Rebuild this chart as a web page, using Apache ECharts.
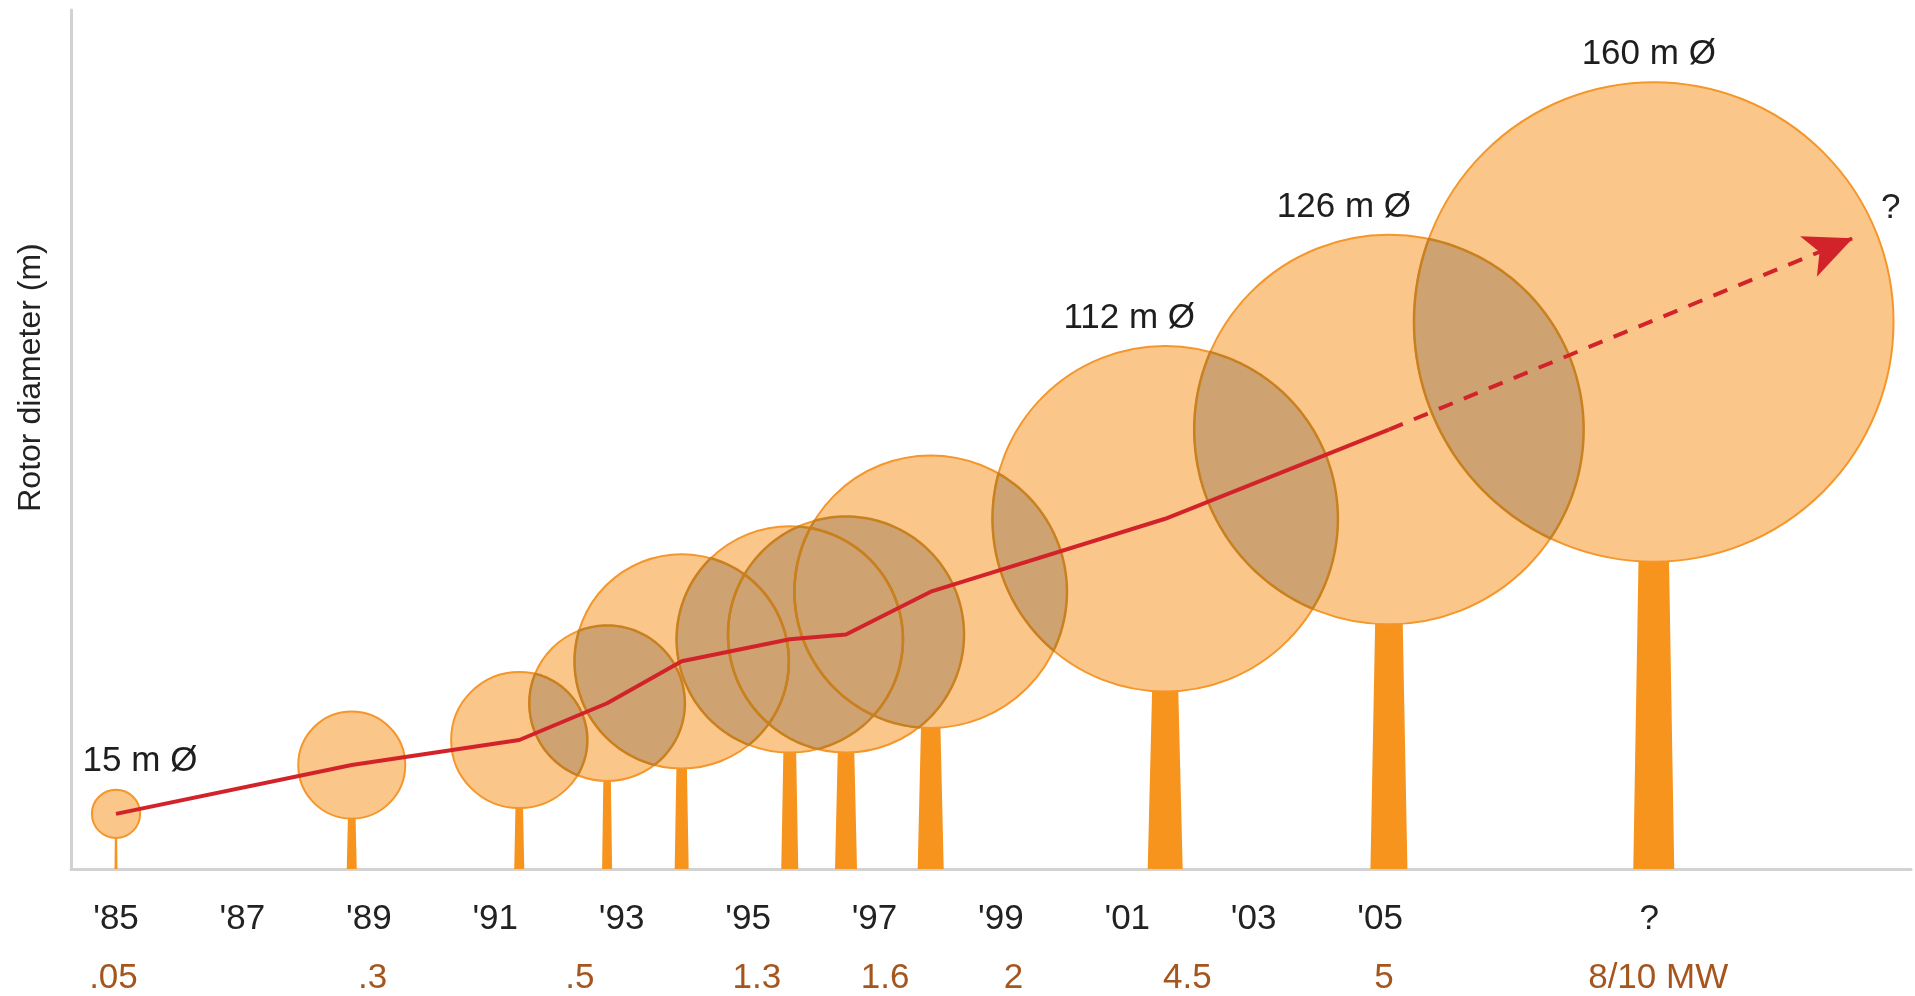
<!DOCTYPE html>
<html>
<head>
<meta charset="utf-8">
<script src="https://cdn.jsdelivr.net/npm/echarts@6/dist/echarts.min.js"></script>
<style>
html,body{margin:0;padding:0;background:#ffffff;}
#c{width:1915px;height:996px;}
</style>
</head>
<body>
<div id="c"></div>
<script>
// ---- data ----
const years          = [1985.0, 1988.73, 1991.38, 1992.77, 1993.95, 1995.66, 1996.55, 1997.89, 2001.6, 2005.14, 2009.33];
const hubHeight      = [18.3, 34.5, 42.8, 55.0, 68.9, 76.2, 77.8, 92.0, 116.2, 145.8, 181.5];
const rotorDiameter  = [16, 35.5, 45.2, 51.6, 71.1, 75.1, 78.3, 90.4, 114.6, 129.2, 159.1];
const rotorLabels    = ['15 m Ø', '', '', '', '', '', '', '', '112 m Ø', '126 m Ø', '160 m Ø'];
const trendEnd       = [2012.48, 209.3];
const trendLabel     = '?';
const yearTicks      = [1985, 1987, 1989, 1991, 1993, 1995, 1997, 1999, 2001, 2003, 2005, 2009.26];
const yearTickLabels = ["'85", "'87", "'89", "'91", "'93", "'95", "'97", "'99", "'01", "'03", "'05", "?"];
const powerTicks     = [1984.96, 1989.06, 1992.34, 1995.14, 1997.17, 1999.2, 2001.95, 2005.06, 2009.4];
const powerLabels    = ['.05', '.3', '.5', '1.3', '1.6', '2', '4.5', '5', '8/10 MW'];
const yAxisName      = 'Rotor diameter (m)';

// ---- styles ----
const FONT = '"Liberation Sans", Arial, sans-serif';
const towerWidthPx = [3, 10, 10, 10, 14, 17, 22, 26, 35, 37, 41];
const labelDx = [24, 0, 0, 0, 0, 0, 0, 0, -36, -45, -5];

const chart = echarts.init(document.getElementById('c'));

const rotorData = years.map((y, i) => [y, hubHeight[i], rotorDiameter[i]]);
const pairData = [];
for (let i = 0; i < years.length; i++) {
  for (let j = i + 1; j < years.length; j++) {
    pairData.push([years[i], hubHeight[i], rotorDiameter[i], years[j], hubHeight[j], rotorDiameter[j]]);
  }
}
const lineData = years.slice(0, 10).map((y, i) => [y, hubHeight[i]]);

function lensPoints(api) {
  const c1 = api.coord([api.value(0), api.value(1)]);
  const r1 = api.size([0, api.value(2)])[1] / 2;
  const c2 = api.coord([api.value(3), api.value(4)]);
  const r2 = api.size([0, api.value(5)])[1] / 2;
  const dx = c2[0] - c1[0], dy = c2[1] - c1[1];
  const D = Math.hypot(dx, dy);
  if (D >= r1 + r2 || D <= Math.abs(r1 - r2)) return null;
  const ux = dx / D, uy = dy / D;
  const a = (r1 * r1 - r2 * r2 + D * D) / (2 * D);
  const h = Math.sqrt(Math.max(0, r1 * r1 - a * a));
  const base1 = Math.atan2(uy, ux);
  const al1 = Math.atan2(h, a);
  const base2 = base1 + Math.PI;
  const al2 = Math.atan2(h, D - a);
  const pts = [];
  const N = 80;
  for (let k = 0; k <= N; k++) {
    const t = base1 + al1 - 2 * al1 * k / N;
    pts.push([c1[0] + r1 * Math.cos(t), c1[1] + r1 * Math.sin(t)]);
  }
  for (let k = 0; k <= N; k++) {
    const t = base2 + al2 - 2 * al2 * k / N;
    pts.push([c2[0] + r2 * Math.cos(t), c2[1] + r2 * Math.sin(t)]);
  }
  return pts;
}

function findLabel(ticks, labels, v) {
  for (let i = 0; i < ticks.length; i++) {
    if (Math.abs(ticks[i] - v) < 1e-6) return labels[i];
  }
  return '';
}

const option = {
  animation: false,
  backgroundColor: '#ffffff',
  grid: { left: 71, right: 4, top: 10, bottom: 124, containLabel: false },
  xAxis: [
    {
      type: 'value', min: 1984.288, max: 2013.4, position: 'bottom',
      axisLine: { show: true, lineStyle: { color: '#d2d2d2', width: 3 } },
      axisTick: { show: false },
      splitLine: { show: false },
      axisLabel: {
        show: true, customValues: yearTicks, margin: 33,
        fontFamily: FONT, fontSize: 35, color: '#222222',
        formatter: v => findLabel(yearTicks, yearTickLabels, v)
      }
    },
    {
      type: 'value', min: 1984.288, max: 2013.4, position: 'bottom', offset: 0,
      axisLine: { show: false }, axisTick: { show: false }, splitLine: { show: false },
      axisLabel: {
        show: true, customValues: powerTicks, margin: 92,
        fontFamily: FONT, fontSize: 35, color: '#a5561e',
        formatter: v => findLabel(powerTicks, powerLabels, v)
      }
    }
  ],
  yAxis: {
    type: 'value', min: 0, max: 285,
    axisLine: { show: true, lineStyle: { color: '#d2d2d2', width: 3 } },
    axisTick: { show: false }, axisLabel: { show: false }, splitLine: { show: false },
    name: yAxisName, nameLocation: 'middle', nameGap: 24,
    nameTextStyle: { fontFamily: FONT, fontSize: 32, color: '#222222', padding: [0, 0, 0, 124] }
  },
  series: [
    {
      type: 'custom', name: 'towers', z: 1,
      data: rotorData,
      encode: { x: 0, y: 1 },
      renderItem: function (params, api) {
        const i = params.dataIndex;
        const bottom = api.coord([api.value(0), 0]);
        const top = api.coord([api.value(0), api.value(1) - api.value(2) / 2]);
        const wb = towerWidthPx[i] / 2, wt = towerWidthPx[i] * 0.74 / 2;
        return {
          type: 'polygon',
          shape: { points: [[bottom[0] - wb, bottom[1]], [bottom[0] + wb, bottom[1]], [top[0] + wt, top[1] - 6], [top[0] - wt, top[1] - 6]] },
          style: { fill: '#f7941d' }
        };
      }
    },
    {
      type: 'custom', name: 'rotors', z: 2,
      data: rotorData,
      encode: { x: 0, y: 1 },
      renderItem: function (params, api) {
        const i = params.dataIndex;
        const c = api.coord([api.value(0), api.value(1)]);
        const r = api.size([0, api.value(2)])[1] / 2;
        const children = [{
          type: 'circle',
          shape: { cx: c[0], cy: c[1], r: r },
          style: { fill: '#fbc68a', stroke: '#f5962a', lineWidth: 2 }
        }];
        if (rotorLabels[i]) {
          children.push({
            type: 'text',
            style: {
              text: rotorLabels[i], x: c[0] + labelDx[i], y: c[1] - r - 28,
              align: 'center', verticalAlign: 'middle',
              fontFamily: FONT, fontSize: 35, fill: '#1e1e1e'
            }
          });
        }
        return { type: 'group', children: children };
      }
    },
    {
      type: 'custom', name: 'overlapFill', z: 3,
      data: pairData,
      encode: { x: [0, 3], y: [1, 4] },
      renderItem: function (params, api) {
        const pts = lensPoints(api);
        if (!pts) return null;
        return { type: 'polygon', shape: { points: pts }, style: { fill: '#cfa272' } };
      }
    },
    {
      type: 'custom', name: 'overlapEdge', z: 4,
      data: pairData,
      encode: { x: [0, 3], y: [1, 4] },
      renderItem: function (params, api) {
        const pts = lensPoints(api);
        if (!pts) return null;
        return { type: 'polygon', shape: { points: pts }, style: { fill: 'none', stroke: '#c9801f', lineWidth: 2.5 } };
      }
    },
    {
      type: 'line', name: 'trend', z: 5,
      data: lineData,
      symbol: 'none', smooth: false,
      lineStyle: { color: '#d2232a', width: 4 },
      markLine: {
        silent: true, animation: false,
        symbol: ['none', 'arrow'], symbolSize: [33, 48],
        label: { show: false },
        lineStyle: { color: '#d2232a', width: 4, type: [15, 12] },
        itemStyle: { color: '#d2232a' },
        data: [[{ coord: [years[9], hubHeight[9]] }, { coord: trendEnd }]]
      },
      markPoint: {
        silent: true, symbol: 'circle', symbolSize: 1,
        itemStyle: { color: 'rgba(0,0,0,0)' },
        label: { show: true, formatter: trendLabel, position: 'inside', offset: [38, -30], fontFamily: FONT, fontSize: 35, color: '#222222' },
        data: [{ coord: trendEnd }]
      }
    }
  ]
};
chart.setOption(option);
</script>
</body>
</html>
